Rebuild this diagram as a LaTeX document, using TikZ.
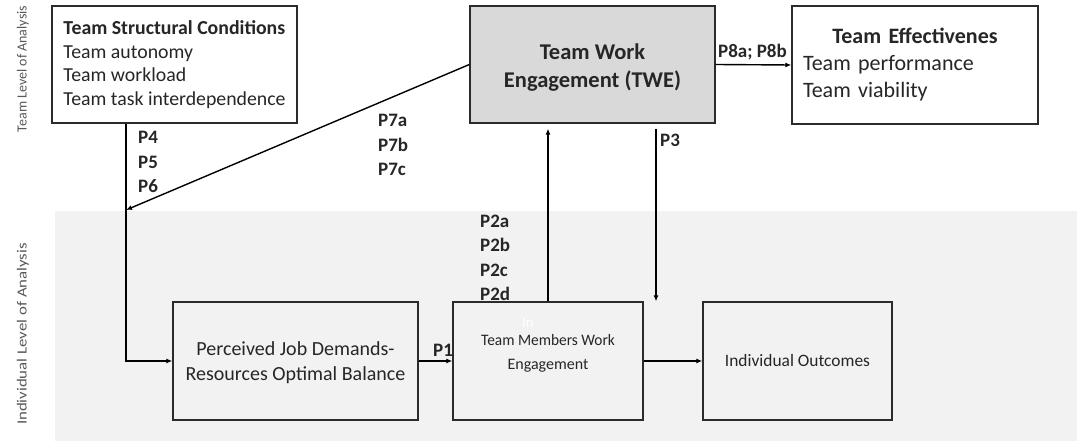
\documentclass[tikz,border=0pt]{standalone}
\usepackage{fontspec}
\setmainfont{Carlito}
\usetikzlibrary{arrows.meta}
\definecolor{bandgray}{HTML}{F2F2F2}
\definecolor{twegray}{HTML}{D9D9D9}
\definecolor{edge}{HTML}{2B2B2B}
\begin{document}
\begin{tikzpicture}[x=1pt,y=-1pt,
  box/.style={draw=edge,line width=1.3pt,inner sep=0pt,text=black!85},
  arr/.style={draw=black,line width=1.4pt,-{Latex[length=6pt,width=5pt]}},
  ln/.style={draw=black,line width=1.4pt},
  plab/.style={font=\fontsize{19}{24.5}\selectfont\bfseries,align=left,inner sep=0pt,anchor=west,text=black!85},
  side/.style={font=\fontsize{14}{16}\selectfont,text=black!65,rotate=90}]
\useasboundingbox (0,0) rectangle (1077,441);
\fill[white] (0,0) rectangle (1077,441);
\fill[bandgray] (55,211) rectangle (1077,441);
% side labels
\node[side] (tla) at (23,69) {Team Level of Analysis};
\node[side] (ila) at (23,334) {\scalebox{1.2}[1]{Individual Level of Analysis}};
% boxes
\node[box,fill=white,minimum width=245,minimum height=117,align=left,font=\fontsize{19.8}{23.7}\selectfont] (tsc) at (174.5,64.5)
  {\textbf{Team Structural Conditions}\\Team autonomy\\Team workload\\Team task interdependence};
\node[box,fill=twegray,minimum width=245,minimum height=117] (twe) at (592.5,64.5) {};
\node[align=center,font=\fontsize{22.5}{28}\selectfont\bfseries,text=black!85] (twet) at (592.5,67.5)
  {Team Work\\Engagement (TWE)};
\node[box,fill=white,minimum width=246,minimum height=118,text width=224,align=left,font=\fontsize{22}{27}\selectfont] (te) at (915,65)
  {\makebox[224pt][c]{\bfseries Team Effectivenes}\\Team performance\\Team viability};
\node[box,fill=bandgray,minimum width=245,minimum height=118] (pjd) at (295.5,361) {};
\node[align=center,font=\fontsize{20}{25}\selectfont,text=black!85] (pjdt) at (295.5,362.5)
  {Perceived Job Demands-\\Resources Optimal Balance};
\node[box,fill=bandgray,minimum width=190,minimum height=118] (tmw) at (548,361) {};
\node[align=center,font=\fontsize{16}{24}\selectfont,text=black!85] (tmwt) at (548,353)
  {\scalebox{0.96}[1]{Team Members Work}\\Engagement};
\node[text=white,font=\fontsize{15}{15}\selectfont] (inn) at (528,323) {In};
\node[box,fill=bandgray,minimum width=189,minimum height=118,font=\fontsize{17.4}{22}\selectfont] (io) at (797.5,361)
  {Individual Outcomes};
% junction coordinate
\coordinate (j) at (126,210);
% connectors
\draw[ln] (tsc.south -| j) -- (j);
\draw[arr] (j) |- (pjd.west);
\draw[arr] (twe.west) -- (j);
\draw[arr] (tmw.north) -- ([yshift=-5pt]twe.south -| tmw.north);
\coordinate (p3x) at (656,0);
\draw[arr] ([yshift=-5pt]twe.south -| p3x) -- (tmw.north -| p3x);
\draw[arr] (twe.east) -- (te.west);
\draw[arr] (pjd.east) -- (tmw.west);
\draw[arr] (tmw.east) -- (io.west);
% labels
\node[plab] (l456) at (138,162) {P4\\P5\\P6};
\node[plab] (l7) at (378,145) {P7a\\P7b\\P7c};
\node[plab] (l2) at (480,258) {P2a\\P2b\\P2c\\P2d};
\node[plab] (l3) at (660,140) {P3};
\node[plab] (l1) at (433,350) {P1};
\node[plab] (l8) at (718,52) {P8a; P8b};
\end{tikzpicture}
\end{document}
